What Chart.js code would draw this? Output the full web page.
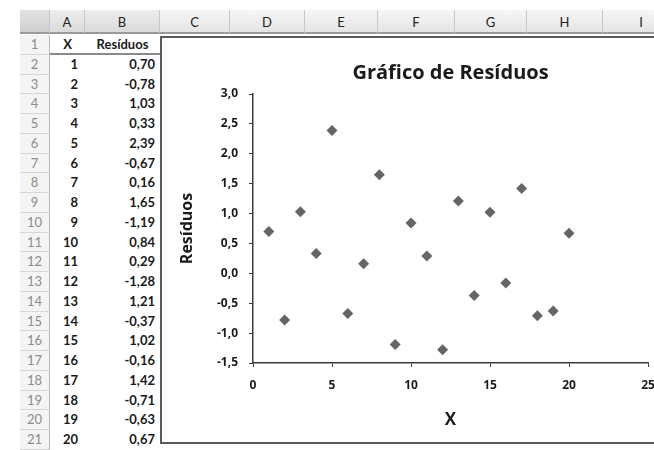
<!DOCTYPE html>
<html>
<head>
<meta charset="utf-8">
<script src="https://cdn.jsdelivr.net/npm/chart.js@4.4.1/dist/chart.umd.min.js"></script>
<style>
  html, body { margin: 0; padding: 0; width: 654px; height: 450px; overflow: hidden; background: #fff; }
  body { position: relative; font-family: Lato, "Open Sans", sans-serif; }
  .cell { position: absolute; box-sizing: border-box; white-space: nowrap; font-size: 13px; }
  .colhead { top: 10px; height: 24px; line-height: 24px; text-align: center; color: #222;
             background: linear-gradient(#f7f7f7, #e4e4e4); border-right: 1px solid #c8c8c8;
             border-bottom: 2px solid #9a9a9a; }
  .rowhead { left: 20px; width: 30px; text-align: center; color: #8c8c8c; background: #f4f4f4;
             border-bottom: 1px solid #d6d6d6; border-right: 1px solid #b8b8b8; }
  .val { color: #1a1a1a; font-weight: 700; text-align: right; }
  #chartBox { position: absolute; left: 160px; top: 36px; width: 560px; height: 408px;
              border: 2px solid #5a5a5a; background: #fff; box-sizing: border-box; }
  #chartWrap { position: absolute; left: 162px; top: 38px; width: 540px; height: 405px; }
</style>
</head>
<body>
<div id="sheet"></div>
<div id="chartBox"></div>
<div id="chartWrap"><canvas id="residuos" width="540" height="405"></canvas></div>
<script>
// worksheet data
const xValues = [1, 2, 3, 4, 5, 6, 7, 8, 9, 10, 11, 12, 13, 14, 15, 16, 17, 18, 19, 20];
const residuos = [0.70, -0.78, 1.03, 0.33, 2.39, -0.67, 0.16, 1.65, -1.19, 0.84,
                  0.29, -1.28, 1.21, -0.37, 1.02, -0.16, 1.42, -0.71, -0.63, 0.67];
const columnLetters = ['A', 'B', 'C', 'D', 'E', 'F', 'G', 'H', 'I'];
const columnEdges = [50, 85, 160, 230, 305, 378, 455, 527, 603, 680];
const headerTexts = ['X', 'Resíduos'];

const fmt = v => v.toFixed(2).replace('.', ',');

// grid
const sheet = document.getElementById('sheet');
function addCell(cls, left, top, width, height, text, extra) {
  const d = document.createElement('div');
  d.className = 'cell ' + cls;
  d.style.left = left + 'px';
  d.style.top = top + 'px';
  d.style.width = width + 'px';
  d.style.height = height + 'px';
  d.style.lineHeight = height + 'px';
  if (extra) Object.assign(d.style, extra);
  d.textContent = text;
  sheet.appendChild(d);
}

// corner + column headers
addCell('colhead', 20, 10, 30, 24, '', { background: 'linear-gradient(#e2e2e2,#cfcfcf)' });
columnLetters.forEach((c, i) => {
  const extra = i < 2 ? { background: 'linear-gradient(#eeeeee,#dadada)' } : null;
  addCell('colhead', columnEdges[i], 10, columnEdges[i + 1] - columnEdges[i], 24, c, extra);
});

const rowTop = 35, rowH = 19.75;
for (let r = 0; r < 21; r++) {
  addCell('rowhead', 20, rowTop + r * rowH, 30, rowH, String(r + 1));
}
// header row
addCell('val', 50, rowTop, 35, rowH, headerTexts[0], { textAlign: 'center', borderBottom: '2px solid #8a8a8a' });
addCell('val', 85, rowTop, 75, rowH, headerTexts[1], { textAlign: 'center', borderBottom: '2px solid #8a8a8a' });
xValues.forEach((x, i) => {
  const top = rowTop + (i + 1) * rowH;
  addCell('val', 50, top, 28, rowH, String(x));
  addCell('val', 85, top, 70, rowH, fmt(residuos[i]));
});

// chart
const points = xValues.map((x, i) => ({ x: x, y: residuos[i] }));
const chartFamily = '"Open Sans", "DejaVu Sans", sans-serif';
const tickFont = { family: chartFamily, size: 12, weight: 'bold' };

new Chart(document.getElementById('residuos'), {
  type: 'scatter',
  data: {
    datasets: [{
      label: 'Resíduos',
      data: points,
      pointStyle: 'rectRot',
      pointRadius: 5.5,
      pointHoverRadius: 5.5,
      backgroundColor: '#656565',
      borderColor: '#656565',
      borderWidth: 0
    }]
  },
  options: {
    responsive: false,
    animation: false,
    layout: { padding: { left: 0, top: 0, right: 54, bottom: 12 } },
    plugins: {
      legend: { display: false },
      tooltip: { enabled: false },
      title: {
        display: true,
        fullSize: false,
        text: 'Gráfico de Resíduos',
        color: '#1a1a1a',
        font: { family: chartFamily, size: 20, weight: 'bold' },
        padding: { top: 23, bottom: 9 }
      }
    },
    scales: {
      x: {
        type: 'linear',
        min: 0,
        max: 25,
        afterFit: s => { s.height = 68; },
        border: { display: true, color: '#3a3a3a', width: 1.5 },
        grid: { drawOnChartArea: false, drawTicks: true, tickLength: 4, color: '#3a3a3a' },
        ticks: { stepSize: 5, padding: 11, color: '#1a1a1a', font: tickFont, maxRotation: 0 },
        title: {
          display: true, text: 'X', color: '#1a1a1a',
          font: { family: chartFamily, size: 17, weight: 'bold' },
          padding: { top: 0, bottom: 1 }
        }
      },
      y: {
        min: -1.5,
        max: 3,
        afterFit: s => { s.width = 91; },
        border: { display: true, color: '#3a3a3a', width: 1.5 },
        grid: { drawOnChartArea: false, drawTicks: true, tickLength: 4, color: '#3a3a3a' },
        ticks: {
          stepSize: 0.5, padding: 11, color: '#1a1a1a', font: tickFont,
          callback: v => v.toFixed(1).replace('.', ',')
        },
        title: {
          display: true, text: 'Resíduos', color: '#1a1a1a',
          font: { family: chartFamily, size: 16, weight: 'bold' },
          padding: { top: 16, bottom: 0 }
        }
      }
    }
  }
});
</script>
</body>
</html>
